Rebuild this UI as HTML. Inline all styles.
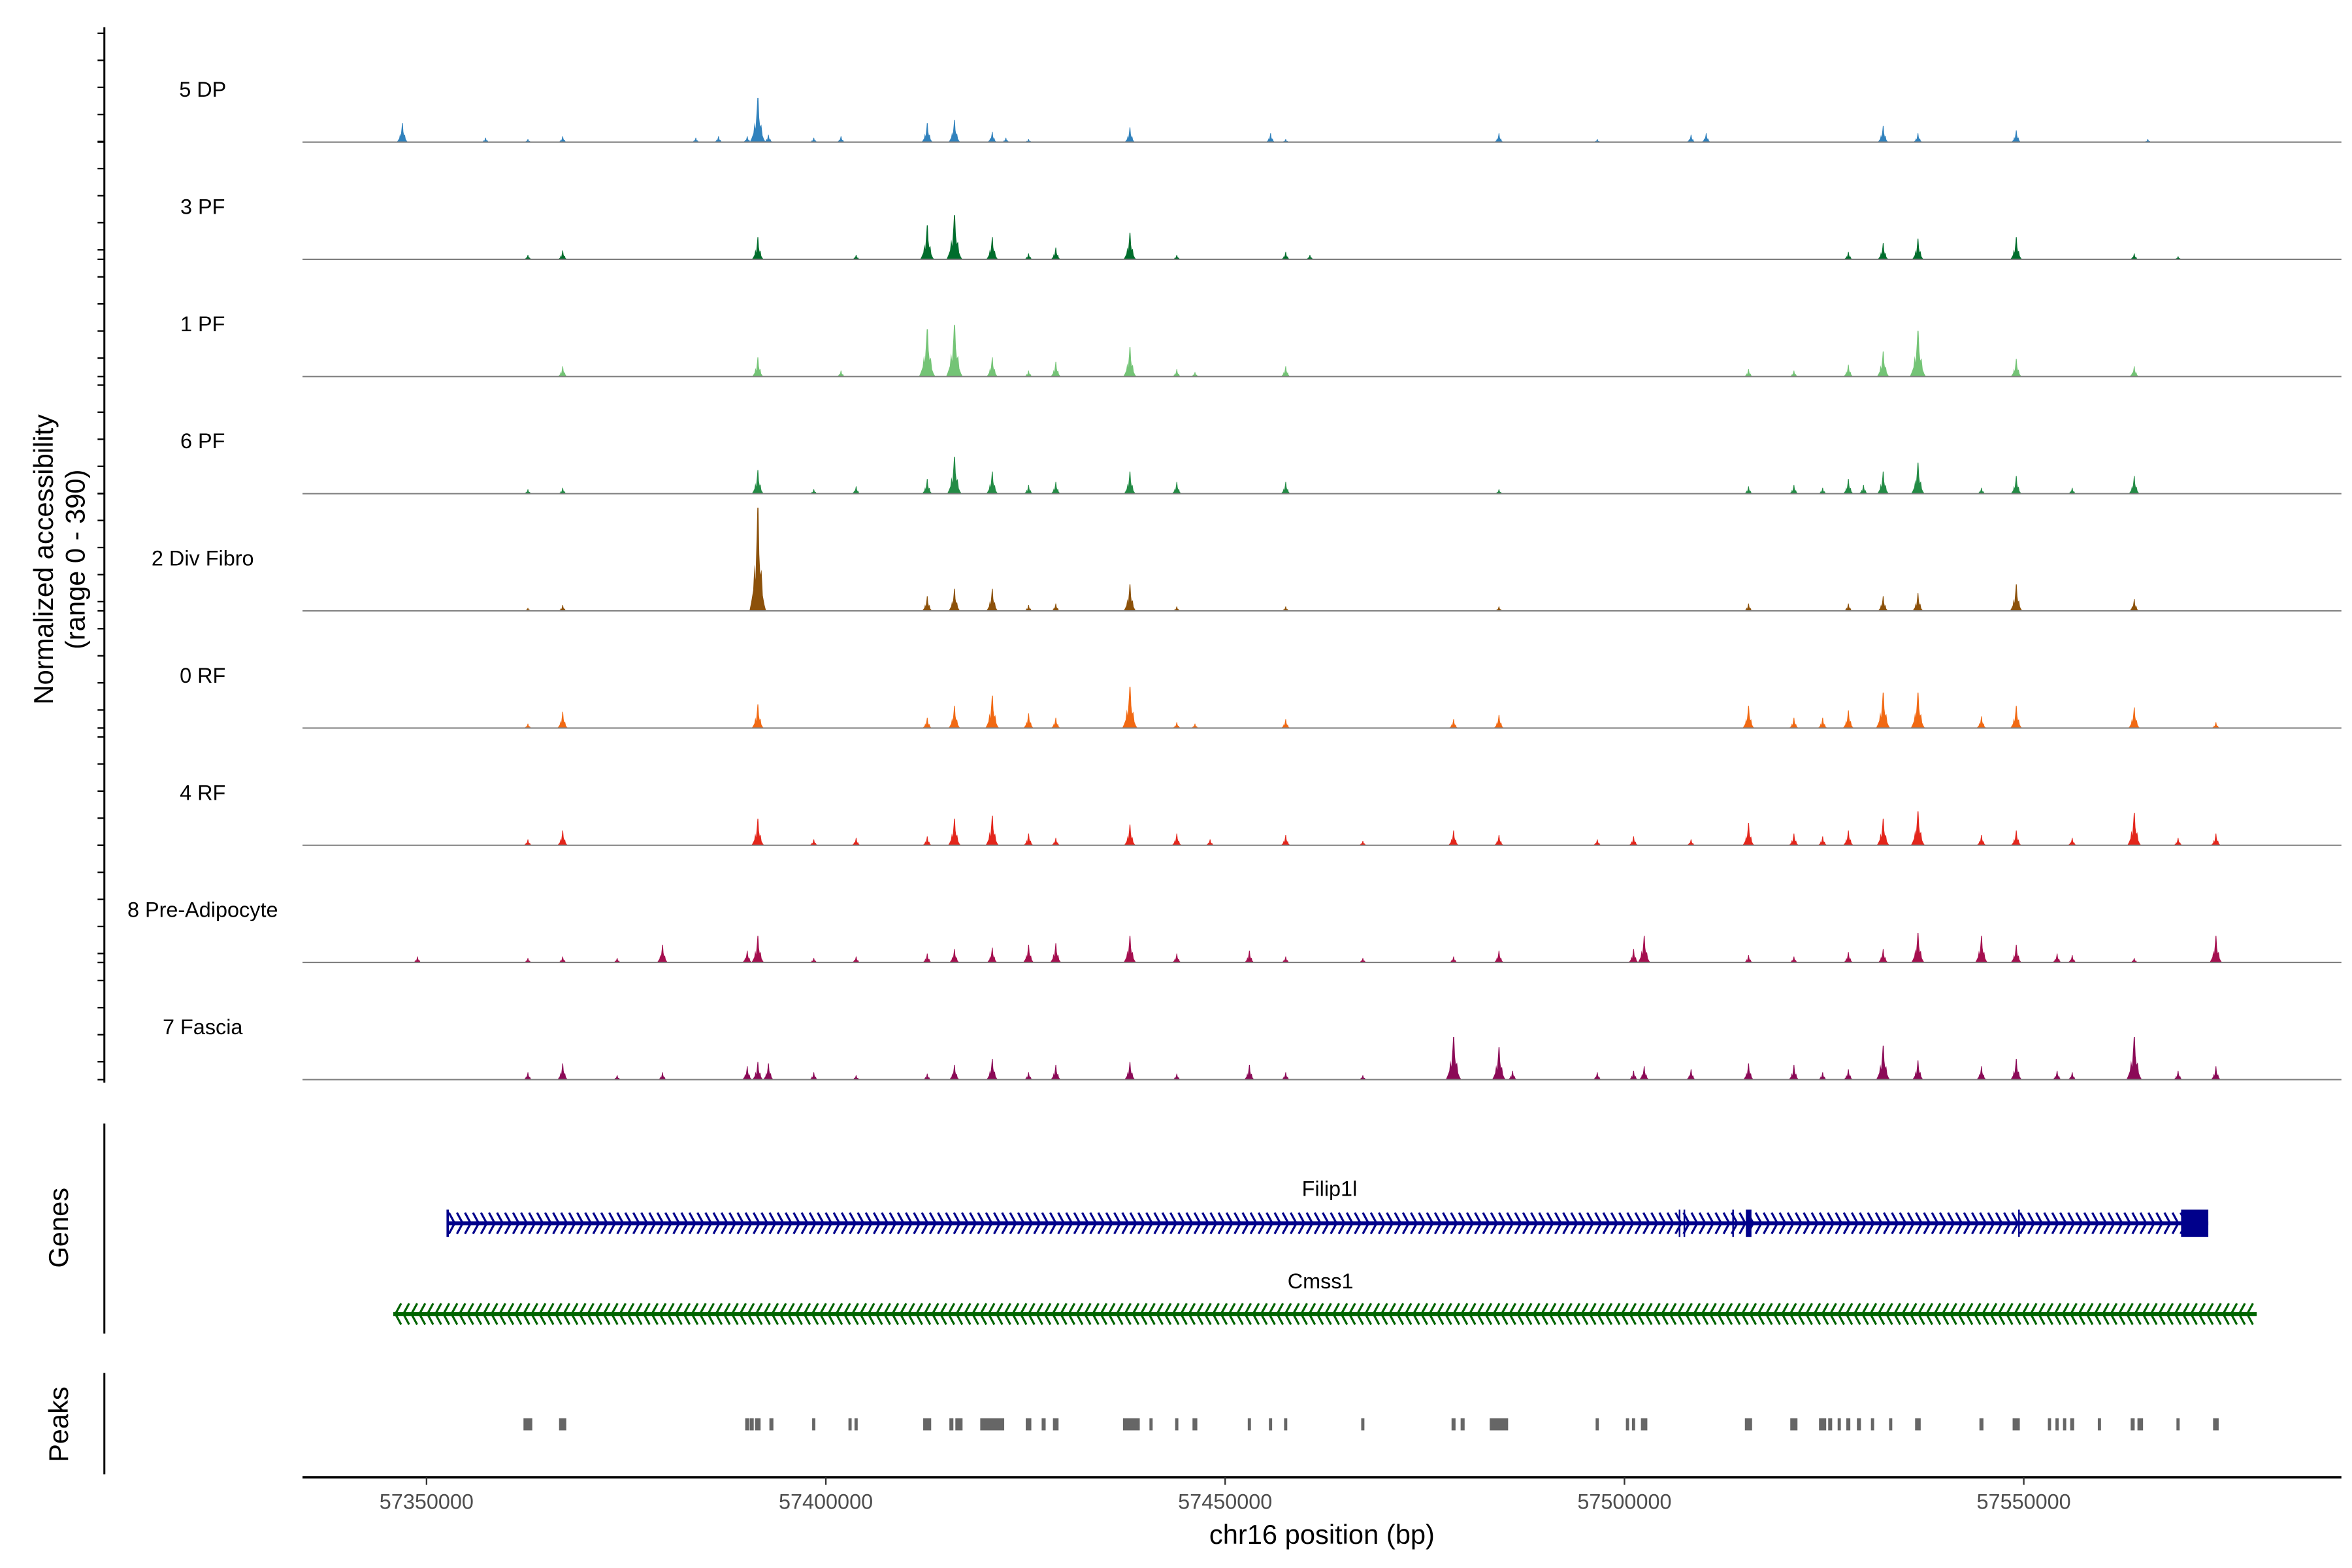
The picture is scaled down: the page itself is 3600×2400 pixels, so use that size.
<!DOCTYPE html>
<html><head><meta charset="utf-8"><style>
html,body{margin:0;padding:0;background:#fff;}
svg{display:block;}
text{font-family:"Liberation Sans",Arial,sans-serif;}
</style></head><body>
<svg id="chart" width="3600" height="2400" viewBox="0 0 1555 1037" preserveAspectRatio="none" xmlns="http://www.w3.org/2000/svg">
<rect x="0" y="0" width="1555" height="1037" fill="#fff"/>
<g id="tracks"></g>
<g id="yaxis"></g>
<text transform="translate(35,370) rotate(-90)" text-anchor="middle" font-size="18">Normalized accessibility</text>
<text transform="translate(56,370) rotate(-90)" text-anchor="middle" font-size="18">(range 0 - 390)</text>
<g id="genes"></g>
<g id="peaks"></g>
<g id="xaxis"></g>
<text x="874" y="1021" text-anchor="middle" font-size="18">chr16 position (bp)</text>
</svg>
<script>
// ---- data ----
const trackNames = ["5 DP","3 PF","1 PF","6 PF","2 Div Fibro","0 RF","4 RF","8 Pre-Adipocyte","7 Fascia"];
const trackColors = ["#3182bd","#006d2c","#74c476","#238b45","#8c510a","#f16913","#e3261c","#a50f4f","#8b0a57"];
const peakPositions = [57346970,57348864,57357386,57362689,57367045,57373864,57379545,57383712,57386553,57390152,
57391477,57392803,57398485,57401894,57403788,57412689,57416098,57420833,57422538,57425379,
57428788,57438068,57443939,57446212,57448106,57453030,57455682,57457576,57460606,57467235,
57478598,57484280,57485985,57496591,57501136,57502462,57508333,57510227,57515530,57521212,
57524811,57528030,57529924,57532386,57536742,57544697,57549053,57554167,57556061,57559470,
57563826,57565530,57569318,57574053];
const dp5 = [65,0,15,10,20,0,0,15,20,20,150,25,15,20,0,65,75,35,15,10,0,50,0,0,0,0,30,10,0,0,0,30,0,10,0,0,25,30,0,0,0,0,0,55,30,0,40,0,0,0,0,10,0,0];
const pf3 = [0,0,0,15,30,0,0,0,0,0,75,0,0,0,15,115,150,75,0,20,40,90,15,0,0,0,0,25,15,0,0,0,0,0,0,0,0,0,0,0,0,25,0,55,70,0,75,0,0,0,20,0,10,0];
const pf1 = [0,0,0,0,35,0,0,0,0,0,65,0,0,20,0,160,175,65,0,20,50,100,25,15,0,0,0,35,0,0,0,0,0,0,0,0,0,0,25,20,0,40,0,85,155,0,60,0,0,0,35,0,0,0];
const pf6 = [0,0,0,15,20,0,0,0,0,0,80,0,15,0,25,50,125,75,0,30,40,75,40,0,0,0,0,40,0,0,0,15,0,0,0,0,0,0,25,30,20,50,30,75,105,20,60,0,20,0,60,0,0,0];
const divFibro2 = [0,0,0,10,20,0,0,0,0,0,350,0,0,0,0,50,75,75,0,20,25,90,15,0,0,0,0,15,0,0,0,15,0,0,0,0,0,0,25,0,0,25,0,50,60,0,90,0,0,0,40,0,0,0];
const rf0 = [0,0,0,15,55,0,0,0,0,0,80,0,0,0,0,35,75,110,0,50,35,140,20,15,0,0,0,30,0,0,30,45,0,0,0,0,0,0,75,35,35,60,0,120,120,40,75,0,0,0,70,0,0,20];
const rf4 = [0,0,0,20,50,0,0,0,0,0,90,0,20,0,25,30,90,100,0,40,25,70,40,0,20,0,0,35,0,15,50,35,0,20,30,0,20,0,75,40,30,50,0,90,115,35,50,0,25,0,110,0,25,40];
const preAdipo8 = [0,20,0,15,20,15,60,0,0,40,90,0,15,0,20,30,45,50,0,60,65,90,30,0,0,40,0,20,0,15,20,40,0,0,45,90,0,0,25,20,0,35,0,45,100,90,60,30,25,0,15,0,0,90];
const fascia7 = [0,0,0,25,55,15,25,0,0,45,60,55,25,0,15,20,50,70,0,25,50,60,20,0,0,50,0,25,0,15,145,110,30,25,30,45,35,0,55,50,25,35,0,115,65,45,70,30,25,0,145,0,30,45];
const trackValues = [dp5,pf3,pf1,pf6,divFibro2,rf0,rf4,preAdipo8,fascia7];
const xTicks = [57350000,57400000,57450000,57500000,57550000];
const peakRegionCenters = [57362689,57367045,57390152,57390720,57391477,57393182,57398485,57403030,57403788,57412689,57415720,57416667,57420833,57425379,57427273,57428788,57438258,57440720,57443939,57446212,57453030,57455682,57457576,57467235,57478598,57479735,57484280,57496591,57500379,57501136,57502462,57515530,57521212,57524811,57525758,57526894,57528030,57529356,57531061,57533333,57536742,57544697,57549053,57553220,57554167,57555114,57556061,57559470,57563636,57564583,57569318,57574053];
const peakRegionWidths = [1100,900,500,500,700,500,400,400,400,1000,500,900,3000,700,500,700,2100,400,400,600,400,400,400,400,500,500,2300,400,400,400,800,900,900,900,500,400,500,500,400,400,700,500,900,400,400,400,500,400,500,700,400,700];
const filipStart = 57352652, filipEnd = 57573106;
const filipExons = [[57352500,57352800],[57506800,57507000],[57507400,57507600],[57513500,57513700],[57515200,57515900],[57549300,57549500],[57569697,57573106]];
const cmssStart = 57345833, cmssEnd = 57579167;

// ---- scales ----
const NS="http://www.w3.org/2000/svg";
const xScale = bp => 282 + (bp - 57350000) * (1056/200000);
const baselines = [94,171.5,249,326.5,404,481.5,559,636.5,714];
const yUnit = 76/390;
function mk(tag, attrs, parent){const e=document.createElementNS(NS,tag);for(const k in attrs)e.setAttribute(k,attrs[k]);parent.appendChild(e);return e;}

// ---- tracks ----
const tg=document.getElementById('tracks');
trackNames.forEach((name,i)=>{
  const g=mk('g',{},tg);
  
  
  const b=baselines[i];
  const lab=mk('text',{x:134,y:b-30,'text-anchor':'middle','font-size':14},g);
  lab.textContent=name;
  
  
  const vals=trackValues[i];
  peakPositions.forEach((p,j)=>{
    const v=vals[j]; if(!v) return;
    const x=xScale(p), h=v*yUnit, w=Math.min(5.5,2.6+h*0.09);
    const pts=[[x-w,b],[x-0.8*w,b-0.08*h],[x-0.55*w,b-0.2*h],[x-0.4*w,b-0.45*h],[x-0.28*w,b-0.3*h],[x-0.12*w,b-0.75*h],[x-0.05*w,b-h],[x+0.08*w,b-h],[x+0.18*w,b-0.55*h],[x+0.3*w,b-0.35*h],[x+0.45*w,b-0.4*h],[x+0.6*w,b-0.15*h],[x+0.8*w,b-0.06*h],[x+w,b]];
    const pl=mk('polygon',{points:pts.map(q=>q[0].toFixed(2)+','+q[1].toFixed(2)).join(' '),fill:trackColors[i]},g);
    
    
  });
  const ln=mk('line',{x1:200,x2:1548,y1:b,y2:b,stroke:'#7f7f7f','stroke-width':0.9},g);
  
  
});

// ---- left axis ----
const ya=document.getElementById('yaxis');
mk('line',{x1:69,x2:69,y1:18,y2:716,stroke:'#000','stroke-width':1.3},ya);
for(let y=22;y<=716;y+=17.9){mk('line',{x1:64.5,x2:69,y1:y,y2:y,stroke:'#000','stroke-width':1},ya);}
baselines.forEach(b=>mk('line',{x1:64.5,x2:69,y1:b,y2:b,stroke:'#000','stroke-width':1},ya));

// ---- genes ----
const gg=document.getElementById('genes');
mk('line',{x1:69,x2:69,y1:743,y2:882,stroke:'#000','stroke-width':1.3},gg);
const gl=mk('text',{transform:'translate(45,812) rotate(-90)','text-anchor':'middle','font-size':18},gg);gl.textContent='Genes';

function chevrons(x1,x2,y,dir,color,g){
  let d='';
  for(let x=x1+3;x<x2-1;x+=5.3){
    if(dir>0) d+=`M${x-2.2},${y-7}L${x+1.6},${y}L${x-2.2},${y+7}`;
    else d+=`M${x+2.2},${y-7}L${x-1.6},${y}L${x+2.2},${y+7}`;
  }
  mk('path',{d:d,fill:'none',stroke:color,'stroke-width':1.4},g);
}
const fg=mk('g',{},gg);
const fy=809;
mk('line',{x1:xScale(filipStart),x2:xScale(filipEnd),y1:fy,y2:fy,stroke:'#00008b','stroke-width':2.6},fg);
chevrons(xScale(filipStart),xScale(filipEnd),fy,1,'#00008b',fg);
filipExons.forEach(e=>{const x1=xScale(e[0]),x2=xScale(e[1]);mk('rect',{x:x1,y:fy-9,width:Math.max(0.7,x2-x1),height:18,fill:'#00008b'},fg);});
const ft=mk('text',{x:879,y:791,'text-anchor':'middle','font-size':14},fg);ft.textContent='Filip1l';
const cg=mk('g',{},gg);
const cy=869;
mk('line',{x1:xScale(cmssStart),x2:xScale(cmssEnd),y1:cy,y2:cy,stroke:'#006400','stroke-width':2.6},cg);
chevrons(xScale(cmssStart),xScale(cmssEnd),cy,-1,'#006400',cg);
const ct=mk('text',{x:873,y:852,'text-anchor':'middle','font-size':14},cg);ct.textContent='Cmss1';

// ---- peaks ----
const pg=document.getElementById('peaks');
mk('line',{x1:69,x2:69,y1:908,y2:975,stroke:'#000','stroke-width':1.3},pg);
const pkl=mk('text',{transform:'translate(45,942) rotate(-90)','text-anchor':'middle','font-size':18},pg);pkl.textContent='Peaks';

peakRegionCenters.forEach((c,i)=>{
  const w=peakRegionWidths[i]*(1056/200000);
  const r=mk('rect',{x:xScale(c)-w/2,y:938,width:w,height:8,fill:'#666'},pg);
  
  
});

// ---- x axis ----
const xa=document.getElementById('xaxis');
mk('line',{x1:200,x2:1548,y1:977,y2:977,stroke:'#000','stroke-width':1.6},xa);
xTicks.forEach(t=>{
  const x=xScale(t);
  mk('line',{x1:x,x2:x,y1:977,y2:982,stroke:'#333','stroke-width':1},xa);
  const tx=mk('text',{x:x,y:998,'text-anchor':'middle','font-size':14,fill:'#4d4d4d'},xa);
  tx.textContent=String(t);
  
  
});
</script>
</body></html>
